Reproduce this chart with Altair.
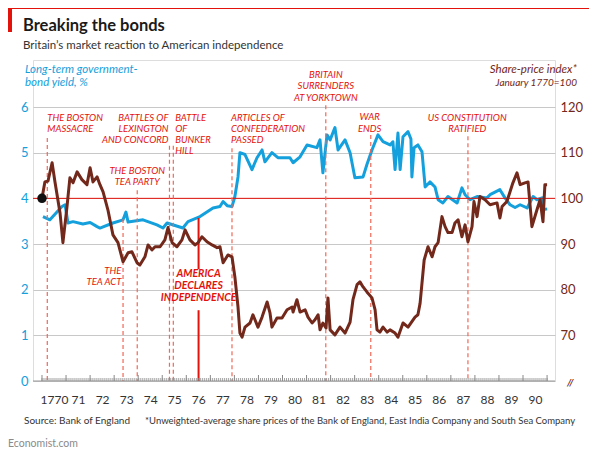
import altair as alt
import pandas as pd

# ---------------- data ----------------
bond_t = [1770.04, 1770.33, 1770.83, 1770.96, 1771.08, 1771.29, 1771.70, 1772.00, 1772.29, 1772.41,
          1772.95, 1773.37, 1773.49, 1773.58, 1774.20, 1774.78, 1775.03, 1775.20, 1775.86, 1776.07,
          1776.57, 1777.11, 1777.40, 1777.53, 1777.70, 1777.90, 1778.02, 1778.15, 1778.23, 1778.44,
          1778.73, 1778.94, 1779.15, 1779.27, 1779.56, 1779.81, 1780.31, 1780.44, 1780.73, 1781.02,
          1781.43, 1781.56, 1781.68, 1781.85, 1781.98, 1782.18, 1782.31, 1782.60, 1782.81, 1783.01,
          1783.35, 1783.51, 1783.72, 1783.97, 1784.18, 1784.47, 1784.59, 1784.68, 1784.80, 1784.89,
          1785.01, 1785.22, 1785.34, 1785.38, 1785.47, 1785.63, 1785.80, 1785.93, 1786.13, 1786.34,
          1786.47, 1786.67, 1786.88, 1787.26, 1787.46, 1787.59, 1787.80, 1788.09, 1788.50, 1788.63,
          1789.04, 1789.25, 1789.46, 1789.67, 1789.88, 1790.17, 1790.42, 1790.58, 1790.79, 1790.83,
          1791.00]
bond_yield = [3.60, 3.53, 3.82, 3.86, 3.46, 3.49, 3.44, 3.47, 3.38, 3.35,
              3.46, 3.53, 3.70, 3.48, 3.53, 3.42, 3.35, 3.46, 3.35, 3.49,
              3.60, 3.79, 3.82, 3.93, 3.84, 3.82, 4.04, 4.47, 5.00, 4.96,
              4.63, 4.89, 5.06, 4.80, 5.00, 4.89, 4.89, 4.78, 4.91, 5.17,
              5.11, 5.28, 4.56, 5.39, 5.28, 5.55, 5.06, 5.28, 5.00, 4.45,
              4.47, 4.74, 5.06, 5.39, 5.24, 5.17, 5.24, 4.63, 5.43, 4.63,
              5.35, 5.46, 5.30, 4.47, 5.11, 5.17, 5.02, 4.25, 4.36, 4.25,
              3.97, 3.90, 4.04, 3.90, 4.23, 4.08, 3.97, 4.04, 4.01, 4.08,
              4.19, 4.01, 3.86, 3.80, 3.86, 3.79, 4.04, 3.97, 4.01, 3.75,
              3.77]

share_t = [1770.00, 1770.12, 1770.25, 1770.42, 1770.54, 1770.75, 1770.87, 1771.04, 1771.16, 1771.29,
           1771.46, 1771.66, 1771.87, 1772.00, 1772.12, 1772.29, 1772.41, 1772.54, 1772.74, 1772.95,
           1773.16, 1773.37, 1773.58, 1773.74, 1773.95, 1774.07, 1774.28, 1774.41, 1774.57, 1774.70,
           1774.91, 1775.11, 1775.24, 1775.41, 1775.61, 1775.82, 1775.95, 1776.15, 1776.36, 1776.49,
           1776.65, 1776.86, 1777.07, 1777.28, 1777.40, 1777.53, 1777.73, 1777.90, 1778.02, 1778.15,
           1778.23, 1778.32, 1778.44, 1778.65, 1778.77, 1778.98, 1779.15, 1779.36, 1779.48, 1779.56,
           1779.77, 1779.98, 1780.19, 1780.40, 1780.44, 1780.60, 1780.73, 1780.94, 1781.06, 1781.23,
           1781.35, 1781.48, 1781.56, 1781.68, 1781.81, 1781.89, 1781.98, 1782.18, 1782.39, 1782.60,
           1782.81, 1782.93, 1783.10, 1783.22, 1783.35, 1783.51, 1783.72, 1783.85, 1783.93, 1784.05,
           1784.18, 1784.35, 1784.47, 1784.68, 1784.80, 1785.01, 1785.22, 1785.51, 1785.63, 1785.72,
           1785.89, 1786.05, 1786.22, 1786.34, 1786.47, 1786.63, 1786.76, 1786.88, 1787.05, 1787.17,
           1787.30, 1787.46, 1787.59, 1787.71, 1787.88, 1787.96, 1788.09, 1788.21, 1788.42, 1788.63,
           1788.92, 1789.04, 1789.13, 1789.33, 1789.58, 1789.75, 1789.88, 1790.08, 1790.21, 1790.37,
           1790.58, 1790.71, 1790.83, 1790.91, 1791.00]
share_index = [100.0, 103.6, 103.8, 107.8, 103.6, 96.8, 90.3, 98.2, 104.5, 103.4,
               105.8, 104.1, 103.0, 106.7, 103.6, 104.7, 103.0, 101.4, 97.5, 92.0,
               90.3, 86.1, 88.1, 88.3, 85.9, 85.4, 87.2, 89.8, 88.7, 89.4,
               89.4, 90.9, 93.6, 90.3, 89.4, 90.9, 93.1, 90.9, 89.8, 90.3,
               91.6, 90.5, 89.8, 89.2, 89.4, 85.9, 87.6, 87.2, 82.8, 76.2,
               70.5, 69.6, 71.8, 72.7, 74.5, 71.8, 74.0, 77.3, 74.9, 71.8,
               73.8, 73.8, 75.6, 76.2, 75.1, 77.8, 75.1, 75.6, 74.0, 72.7,
               73.4, 74.5, 71.2, 72.7, 71.6, 78.2, 71.2, 70.1, 71.8, 70.5,
               72.9, 77.8, 81.1, 81.7, 80.6, 79.5, 78.2, 75.6, 71.2, 70.7,
               71.8, 70.7, 71.2, 70.5, 69.6, 72.7, 71.8, 74.0, 74.5, 77.0,
               86.5, 89.4, 87.2, 89.4, 90.3, 96.0, 93.8, 92.5, 92.5, 94.6,
               95.3, 91.6, 94.2, 90.5, 93.8, 99.3, 96.0, 100.4, 99.7, 98.6,
               99.0, 95.7, 98.2, 99.3, 103.4, 105.6, 103.0, 103.4, 103.6, 93.8,
               97.5, 99.7, 94.9, 103.0, 103.0]

# events: date (decimal year) and top of the dashed marker line (bond-yield units)
event_t = [1770.22, 1773.37, 1773.96, 1775.30, 1775.46, 1777.90, 1781.80, 1783.67, 1787.71]
event_top = [5.32, 3.55, 4.18, 5.15, 5.15, 5.10, 6.04, 5.39, 5.36]
declaration_t = 1776.51

# annotation labels: (x, y, text) grouped by alignment
ann_left_t = [1770.22, 1770.22, 1775.54, 1775.54, 1775.54, 1775.54, 1777.86, 1777.86, 1777.86]
ann_left_v = [5.70, 5.46, 5.70, 5.46, 5.22, 4.98, 5.70, 5.46, 5.22]
ann_left_txt = ["THE BOSTON", "MASSACRE", "BATTLE", "OF", "BUNKER", "HILL",
                "ARTICLES OF", "CONFEDERATION", "PASSED"]
ann_right_t = [1775.26, 1775.26, 1775.26, 1773.30, 1773.30]
ann_right_v = [5.70, 5.46, 5.22, 2.34, 2.10]
ann_right_txt = ["BATTLES OF", "LEXINGTON", "AND CONCORD", "THE", "TEA ACT"]
ann_center_t = [1773.96, 1773.96, 1781.80, 1781.80, 1781.80, 1783.62, 1783.62, 1787.68, 1787.68]
ann_center_v = [4.53, 4.29, 6.63, 6.39, 6.13, 5.72, 5.46, 5.70, 5.46]
ann_center_txt = ["THE BOSTON", "TEA PARTY", "BRITAIN", "SURRENDERS", "AT YORKTOWN",
                  "WAR", "ENDS", "US CONSTITUTION", "RATIFIED"]
decl_v = [2.28, 2.02, 1.76]
decl_txt = ["AMERICA", "DECLARES", "INDEPENDENCE"]

year_ticks = list(range(1770, 1792))
bond_axis_values = [0, 1, 2, 3, 4, 5, 6]
share_axis_values = [70, 80, 90, 100, 110, 120]

# ---------------- styling ----------------
W, H = 522, 321
X_DOMAIN = [1769.626, 1791.33]
YL_DOMAIN = [0, 7.03]
YR_DOMAIN = [60, 130.3]

FONT = "Lato"
BLUE = "#14a0dc"
BROWN = "#72281a"
RED = "#e3120b"
DASH = "#f26757"
GRID = "#c8c8c8"

xs = alt.Scale(domain=X_DOMAIN, nice=False, zero=False)
yl = alt.Scale(domain=YL_DOMAIN, nice=False, zero=False)
yr = alt.Scale(domain=YR_DOMAIN, nice=False, zero=False)

X_AX = alt.Axis(
    values=year_ticks,
    labelExpr="datum.value == 1770 ? '1770' : (datum.value > 1790 ? '' : slice(toString(datum.value), 2))",
    labelOffset=12, ticks=False, domain=False, grid=False, labelFont=FONT,
    labelFontSize=12, labelColor="#333333", labelPadding=13, title=None)
YL_AX = alt.Axis(
    values=bond_axis_values, grid=True, gridColor=GRID, gridWidth=1.2, domain=False,
    ticks=False, labelColor=BLUE, labelFont=FONT, labelFontSize=13, labelPadding=5,
    title=None)
YR_AX = alt.Axis(
    orient="right", values=share_axis_values, grid=False, domain=False, ticks=False,
    labelColor=BROWN, labelFont=FONT, labelFontSize=13, labelPadding=5, title=None)


def X(f):
    return alt.X(f, type="quantitative", scale=xs, axis=X_AX)


def YL(f):
    return alt.Y(f, type="quantitative", scale=yl, axis=YL_AX)


def YR(f):
    return alt.Y(f, type="quantitative", scale=yr, axis=YR_AX)


bond_df = pd.DataFrame({"t": bond_t, "v": bond_yield})
share_df = pd.DataFrame({"t": share_t, "v": share_index})

blue = alt.Chart(bond_df).mark_line(color=BLUE, strokeWidth=3, strokeJoin="round").encode(
    x=X("t"), y=YL("v"))

hundred_line = alt.Chart(pd.DataFrame({"v": [4]})).mark_rule(color=RED, strokeWidth=1).encode(
    y=YL("v"))
base_line = alt.Chart(pd.DataFrame({"v": [0]})).mark_rule(color="#9a9a9a", strokeWidth=1.2).encode(
    y=YL("v"))

ev_df = pd.DataFrame({"t": event_t, "v": event_top, "bot": [0] * len(event_t)})
event_lines = alt.Chart(ev_df).mark_rule(color=DASH, strokeWidth=1.2, strokeDash=[4, 3]).encode(
    x=X("t"), y=YL("v"), y2="bot:Q")

decl_df = pd.DataFrame({"t": [declaration_t, declaration_t], "v": [3.57, 1.55], "bot": [2.45, 0]})
decl_lines = alt.Chart(decl_df).mark_rule(color=RED, strokeWidth=2).encode(
    x=X("t"), y=YL("v"), y2="bot:Q")

months = pd.DataFrame({"t": [1770 + i / 12 for i in range(0, 253)]})
month_ticks = alt.Chart(months).mark_rule(color="#8a8a8a", strokeWidth=0.8).encode(
    x=X("t"), y=alt.value(H), y2=alt.value(H - 3))
yr_df = pd.DataFrame({"t": year_ticks})
year_rules = alt.Chart(yr_df).mark_rule(color="#8a8a8a", strokeWidth=1).encode(
    x=X("t"), y=alt.value(H), y2=alt.value(H - 6))


def ann(ts, vs, txt, align, bold=False, size=9.5):
    df = pd.DataFrame({"t": ts, "v": vs, "txt": txt})
    return alt.Chart(df).mark_text(
        align=align, baseline="alphabetic", font=FONT, fontStyle="italic",
        fontWeight="bold" if bold else "normal", fontSize=size, color=RED).encode(
        x=X("t"), y=YL("v"), text="txt:N")


ann_left = ann(ann_left_t, ann_left_v, ann_left_txt, "left")
ann_right = ann(ann_right_t, ann_right_v, ann_right_txt, "right")
ann_center = ann(ann_center_t, ann_center_v, ann_center_txt, "center")
ann_decl = ann([declaration_t] * 3, decl_v, decl_txt, "center", bold=True, size=10.5)

one = pd.DataFrame({"a": [0]})


def label(text, x, y, size, color, align="left", style="normal", weight="normal"):
    return alt.Chart(one).mark_text(
        text=text, align=align, baseline="alphabetic", fontSize=size, color=color,
        fontStyle=style, fontWeight=weight, font=FONT).encode(x=alt.value(x), y=alt.value(y))


headers = [
    label("Long-term government-", -8, 13, 11.5, BLUE, style="italic"),
    label("bond yield, %", -8, 26, 11.5, BLUE, style="italic"),
    label("Share-price index*", 544, 13, 11.5, BROWN, align="right", style="italic"),
    label("January 1770=100", 544, 26, 10, BROWN, align="right", style="italic"),
    label("Source: Bank of England", -9, 364, 10, "#333333"),
    label("*Unweighted-average share prices of the Bank of England, East India Company and South Sea Company",
          112, 364, 9.5, "#333333"),
    label("Economist.com", -25, 387, 10.5, "#8a8a8a"),
    label("//", 534, 326, 10, BROWN, style="italic", weight="bold"),
    label("Breaking the bonds", -10, -29, 16.5, "#1a1a1a", weight="bold"),
    label("Britain\u2019s market reaction to American independence", -10, -11, 11.5, "#333333"),
]

deco_rect = alt.Chart(one).mark_rect(color=RED).encode(
    x=alt.value(-25), x2=alt.value(-21), y=alt.value(-52), y2=alt.value(-28))
deco_line = alt.Chart(one).mark_rule(color=RED, strokeWidth=1).encode(
    x=alt.value(-25), x2=alt.value(W + 34), y=alt.value(-51.5))

left_layer = alt.layer(
    blue, base_line, hundred_line, event_lines, decl_lines, month_ticks, year_rules,
    ann_left, ann_right, ann_center, ann_decl, deco_rect, deco_line, *headers,
)

brown = alt.Chart(share_df).mark_line(color=BROWN, strokeWidth=3, strokeJoin="round").encode(
    x=X("t"), y=YR("v"))
dot = alt.Chart(share_df.head(1)).mark_circle(color="#111111", size=90, opacity=1).encode(
    x=X("t"), y=YR("v"))

right_layer = alt.layer(brown, dot)

chart = alt.layer(left_layer, right_layer).resolve_scale(y="independent").properties(
    width=W, height=H, autosize=alt.AutoSizeParams(type="none"),
    padding={"left": 25, "top": 52, "right": 37, "bottom": 69},
).configure_view(stroke=None).configure(background="white")

chart.save("out.html", embed_options={"renderer": "svg", "actions": False})
